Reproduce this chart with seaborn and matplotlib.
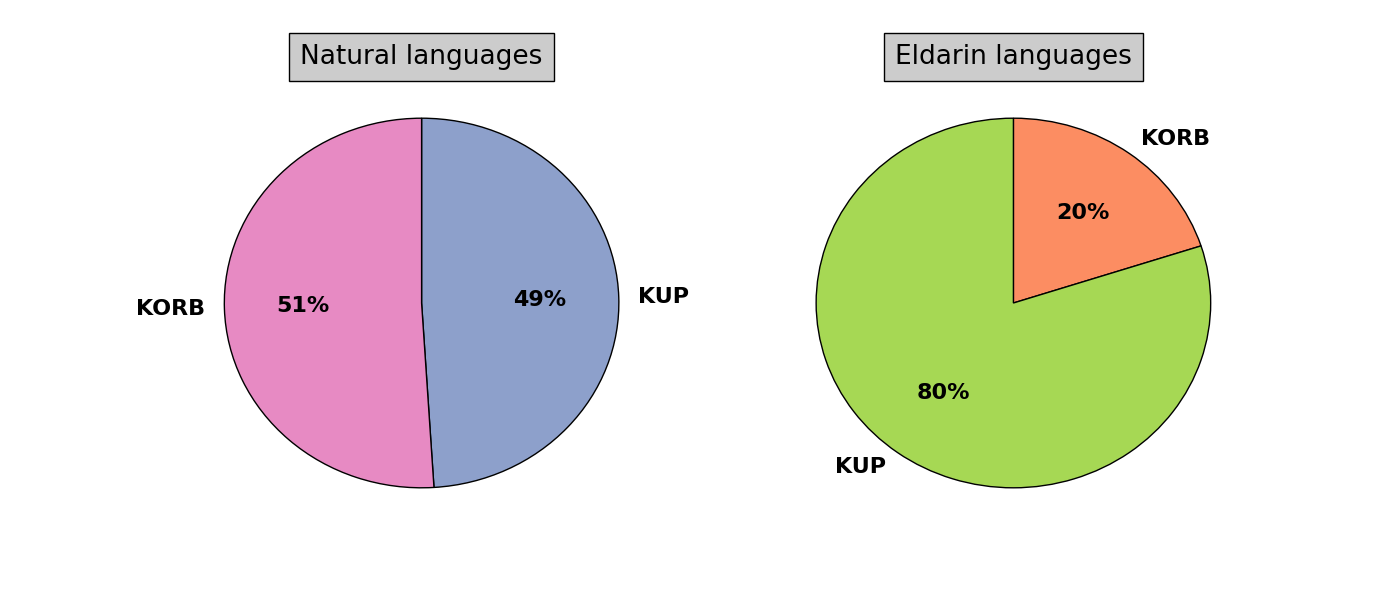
import matplotlib
matplotlib.use("Agg")
import matplotlib.pyplot as plt
import seaborn as sns

# data
groups = ["Natural languages", "Eldarin languages"]
natural_labels = ["KUP", "KORB"]
natural_values = [49, 51]
eldarin_labels = ["KORB", "KUP"]
eldarin_values = [20, 80]

pal = sns.color_palette("Set2")
natural_colors = [pal[2], pal[3]]
eldarin_colors = [pal[1], pal[4]]

fig, axes = plt.subplots(1, 2, figsize=(14, 6), dpi=100)

for ax, title, labels, values, colors in zip(
        axes, groups,
        [natural_labels, eldarin_labels],
        [natural_values, eldarin_values],
        [natural_colors, eldarin_colors]):
    ax.pie(values, labels=labels, colors=colors, autopct="%1.0f%%",
           startangle=90, counterclock=False,
           wedgeprops={"edgecolor": "black", "linewidth": 1},
           textprops={"fontsize": 16, "fontweight": "bold"})
    ax.set_aspect("auto")
    ax.set_title(title, fontsize=19,
                 bbox={"facecolor": "#cccccc", "edgecolor": "black", "pad": 8})

fig.savefig("out.png")
